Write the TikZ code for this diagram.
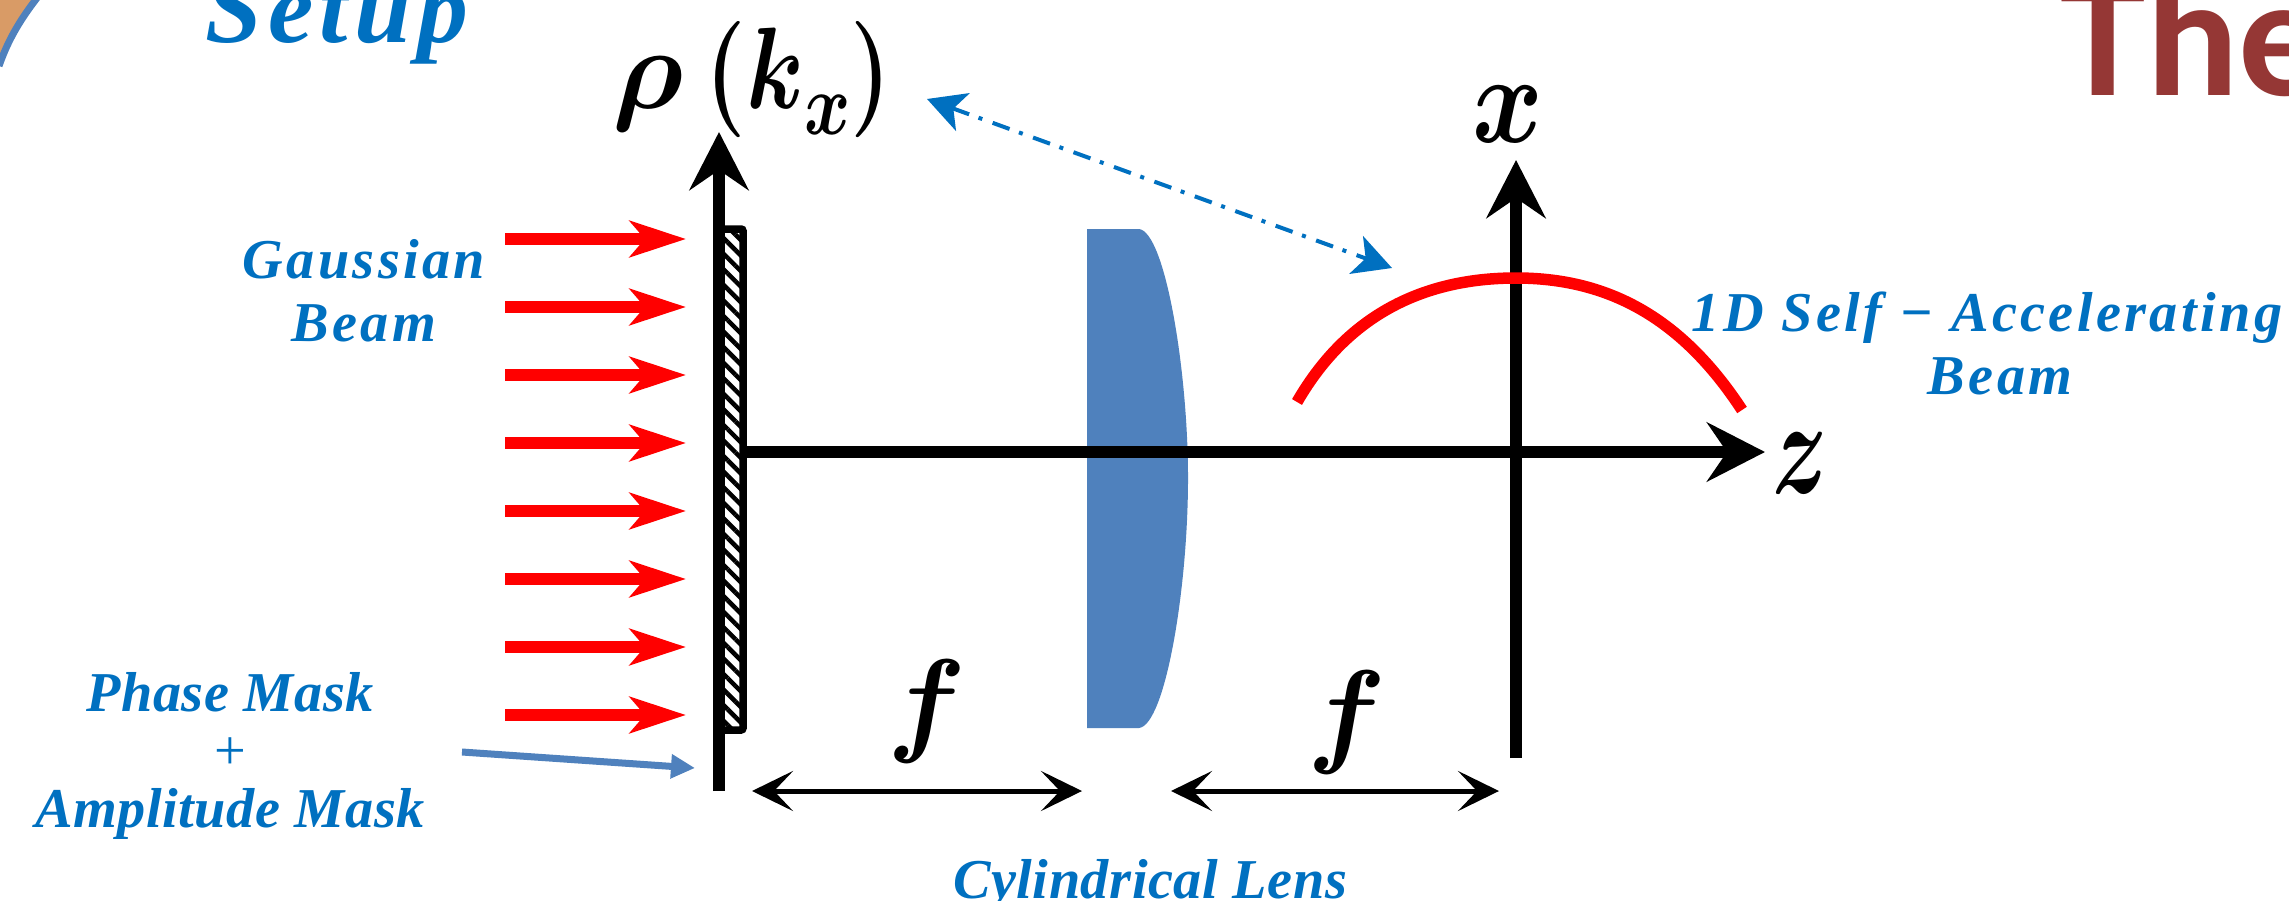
\documentclass[tikz,border=0pt]{standalone}
\usepackage{fix-cm}
\usepackage{fontspec}
\usepackage{xcolor}
\usetikzlibrary{arrows.meta, patterns.meta}
\setmainfont{Liberation Serif}
\newfontfamily\labelfont[LetterSpace=1]{Liberation Serif}
\newfontfamily\widelabelfont[LetterSpace=6]{Liberation Serif}
\newfontfamily\titlefont{Carlito}
\definecolor{labelblue}{HTML}{0070C0}
\definecolor{lensblue}{HTML}{4F81BD}
\definecolor{thered}{HTML}{953735}
\definecolor{cornerorange}{HTML}{D99B66}
\newcommand{\bsym}[1]{{\boldmath$#1$}}

\begin{document}
\begin{tikzpicture}[
        % one unit is one pixel of the reference
        x=0.01cm, y=-0.01cm,
        every node/.style={inner sep=0pt},
        label/.style={font=\labelfont\fontsize{16}{16.4}\selectfont\bfseries\itshape,
                      text=labelblue, align=center, anchor=base},
        widelabel/.style={label, font=\widelabelfont\fontsize{16}{17.9}\selectfont\bfseries\itshape},
        symbol/.style={font=\fontsize{33}{33}\selectfont, anchor=base},
        axis/.style={line width=0.115cm,
                     -{Stealth[length=0.58cm, width=0.59cm, inset=0.2cm]}},
        beam/.style={red, line width=0.12cm,
                     -{Stealth[length=0.56cm, width=0.36cm, inset=0.15cm]}},
        dist/.style={line width=0.05cm,
                     {Stealth[length=0.41cm, width=0.4cm, inset=0.19cm]}-{Stealth[length=0.41cm, width=0.4cm, inset=0.19cm]}},
        pointer/.style={lensblue, line width=0.07cm,
                        -{Triangle[length=0.24cm, width=0.23cm]}},
        relation/.style={labelblue, line width=0.04cm,
                         dash pattern=on 0.18cm off 0.1cm on 0.04cm off 0.11cm,
                         {Stealth[length=0.38cm, width=0.4cm, inset=0.1cm]}-{Stealth[length=0.38cm, width=0.4cm, inset=0.1cm]}}
    ]
    \clip (0,0) rectangle (2289,900);
    \fill[white] (0,0) rectangle (2289,900);

    % --- Corner of the slide ---
    \fill[cornerorange] (0,0) -- (36,0) .. controls (20,20) and (8,40) .. (0,62) -- cycle;
    \draw[lensblue, line width=0.07cm] (37,-2) .. controls (20,20) and (8,40) .. (-1,66);

    % --- Lens ---
    \fill[lensblue] (1087,229) -- (1139,229)
        .. controls (1165,232) and (1188,370) .. (1188,478)
        .. controls (1188,590) and (1165,725) .. (1139,728) -- (1087,728) -- cycle;

    % --- Mask ---
    \draw[line width=0.075cm, rounded corners=0.02cm,
          pattern={Lines[angle=-45, distance=0.11cm, line width=0.045cm]}]
        (719,229) rectangle (743,730);

    % --- Axes ---
    \coordinate (rhoBottom) at (719,791);
    \coordinate (rhoTop) at (719,132);
    \coordinate (zStart) at (743,452);
    \coordinate (zEnd) at (1765,452);
    \coordinate (xBottom) at (1516,758);
    \coordinate (xTop) at (1516,160);
    \draw[axis] (rhoBottom) -- (rhoTop);
    \draw[axis] (zStart) -- (zEnd);
    \draw[axis] (xBottom) -- (xTop);

    % --- Accelerating beam ---
    \draw[red, line width=0.115cm] (1297,402) .. controls (1350,310) and (1430,278) .. (1516,278)
        .. controls (1605,278) and (1680,315) .. (1742,410);

    % --- Gaussian beam arrows ---
    \coordinate (b1) at (505,239);  \coordinate (t1) at (686,239);
    \coordinate (b2) at (505,307);  \coordinate (t2) at (686,307);
    \coordinate (b3) at (505,375);  \coordinate (t3) at (686,375);
    \coordinate (b4) at (505,443);  \coordinate (t4) at (686,443);
    \coordinate (b5) at (505,511);  \coordinate (t5) at (686,511);
    \coordinate (b6) at (505,579);  \coordinate (t6) at (686,579);
    \coordinate (b7) at (505,647);  \coordinate (t7) at (686,647);
    \coordinate (b8) at (505,715);  \coordinate (t8) at (686,715);
    \draw[beam] (b1) -- (t1);
    \draw[beam] (b2) -- (t2);
    \draw[beam] (b3) -- (t3);
    \draw[beam] (b4) -- (t4);
    \draw[beam] (b5) -- (t5);
    \draw[beam] (b6) -- (t6);
    \draw[beam] (b7) -- (t7);
    \draw[beam] (b8) -- (t8);

    % --- Focal distances ---
    \coordinate (f1a) at (752,791);
    \coordinate (f1b) at (1082,791);
    \coordinate (f2a) at (1171,791);
    \coordinate (f2b) at (1499,791);
    \draw[dist] (f1a) -- (f1b);
    \draw[dist] (f2a) -- (f2b);

    % --- Pointer and Fourier relation ---
    \coordinate (maskStart) at (462,752);
    \coordinate (maskEnd) at (695,768);
    \draw[pointer] (maskStart) -- (maskEnd);
    \coordinate (relA) at (927,99);
    \coordinate (relB) at (1392,268);
    \draw[relation] (relA) -- (relB);

    % --- Symbols ---
    \node[symbol, anchor=base west] (rhoLabel) at (612,108)
        {\bsym{\rho}\hspace{0.22cm}\scalebox{0.8}[1]{\bsym{(k}\lower0.26cm\hbox{\fontsize{25}{25}\selectfont\bsym{x}}\bsym{)}}};
    \node[symbol, font=\fontsize{36}{36}\selectfont] (xLabel) at (1508,142) {\scalebox{0.85}[1]{\bsym{x}}};
    \node[symbol] (zLabel) at (1800,493) {\scalebox{0.8}[1.17]{\bsym{z}}};
    \node[symbol] (f1) at (927,740) {\bsym{f}};
    \node[symbol] (f2) at (1347,751) {\bsym{f}};

    % --- Labels ---
    \node[widelabel] (Gauss) at (364,341) {Gaussian\\Beam};
    \node[label] (PM) at (230,827) {Phase Mask\\{\normalfont +}\\Amplitude Mask};
    \node[widelabel] (SA) at (1987,394) {1D Self − Accelerating\\\hspace*{0.26cm}Beam};
    \node[label] (CL) at (1150,898) {Cylindrical Lens};
    \node[widelabel, font=\widelabelfont\fontsize{29}{29}\selectfont\bfseries\itshape] (Setup) at (337,42) {Setup};
    \node[anchor=base west, font=\titlefont\fontsize{49}{49}\selectfont\bfseries, text=thered] (Title) at (2060,95) {The};
\end{tikzpicture}
\end{document}
